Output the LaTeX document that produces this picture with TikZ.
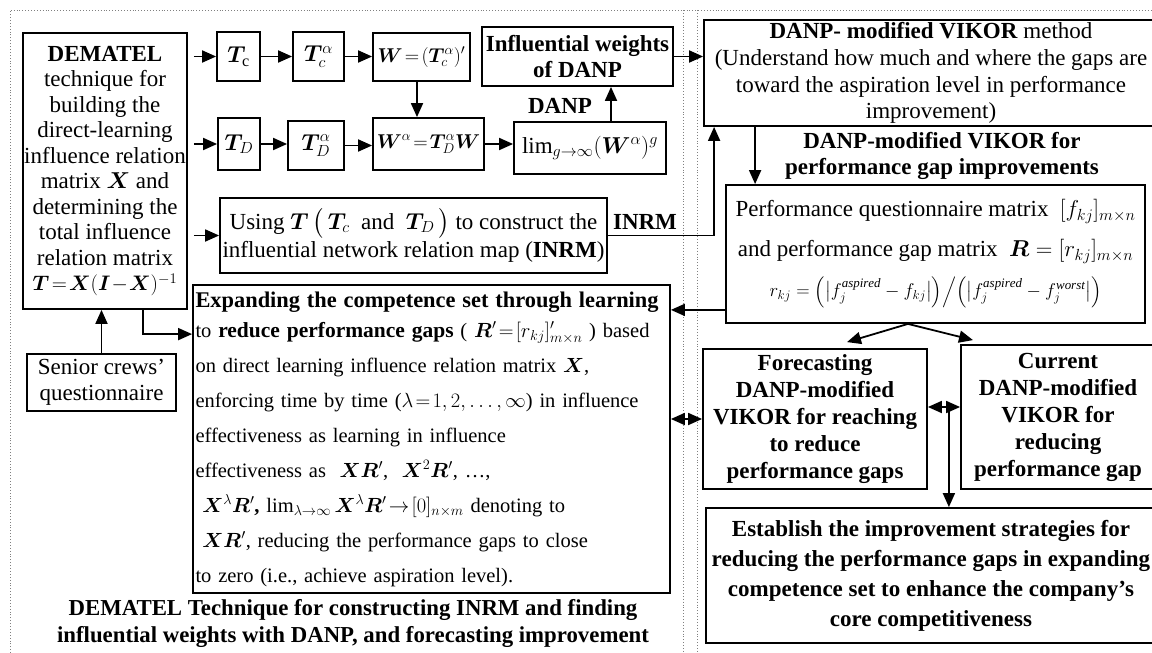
\RequirePackage{fix-cm}
\documentclass[tikz,border=0pt]{standalone}
\usepackage{amsmath}
\usepackage{bm}
\usepackage{fontspec}
\setmainfont{Liberation Serif}
\usetikzlibrary{arrows.meta,calc}
\begin{document}
\begin{tikzpicture}[x=1pt,y=-1pt,
  every node/.style={font=\fontsize{23}{25.5}\selectfont},
  box/.style={draw,line width=1.8pt,inner sep=0pt,align=center},
  arr/.style={line width=1.8pt,-{Triangle[length=14pt,width=12pt]}},
  dbl/.style={line width=1.8pt,{Triangle[length=14pt,width=12pt]}-{Triangle[length=14pt,width=12pt]}},
  framel/.style={gray,dotted,line width=0.9pt},
  lbl/.style={font=\fontsize{23}{26}\selectfont\bfseries,align=center,inner sep=0pt}]
\useasboundingbox (0,0) rectangle (1152,653);
% frame
\draw[framel] (10,653) -- (10,10) -- (1152,10);
\draw[framel] (683,10) -- (683,653);
\draw[framel] (697,10) -- (697,653);
% left part
\node[box,minimum width=164pt,minimum height=276pt] (L) at (105,171)
 {\textbf{DEMATEL}\\technique for\\building the\\direct-learning\\influence relation\\matrix $\bm{X}$ and\\determining the\\total influence\\relation matrix\\{\fontsize{21}{25}\selectfont$\bm{T}\!=\!\bm{X}(\bm{I}\!-\!\bm{X})^{-1}$}};
\node[box,minimum width=43pt,minimum height=49pt] (Tc) at (238.5,56.5) {$\bm{T}_{\mathrm{c}}$};
\node[box,minimum width=51pt,minimum height=49pt] (Tca) at (318.5,56.5) {$\bm{T}_c^{\alpha}$};
\node[box,minimum width=97pt,minimum height=48pt,font=\fontsize{20}{24}\selectfont] (W) at (421.5,57) {$\bm{W}\!=\!(\bm{T}_c^{\alpha})'$};
\node[box,minimum width=191pt,minimum height=59pt] (IW) at (577.5,56.5) {\textbf{Influential weights}\\\textbf{of DANP}};
\node[box,minimum width=42pt,minimum height=52pt] (TD) at (239,144) {$\bm{T}_D$};
\node[box,minimum width=56pt,minimum height=49pt] (TDa) at (316,145.5) {$\bm{T}_D^{\alpha}$};
\node[box,minimum width=111pt,minimum height=52pt,font=\fontsize{20}{24}\selectfont] (Wa) at (428.5,144) {$\bm{W}^{\alpha}\!=\!\bm{T}_D^{\alpha}\bm{W}$};
\node[box,minimum width=152pt,minimum height=52pt] (Lim) at (590,148) {$\lim_{g\to\infty}(\bm{W}^{\alpha})^{g}$};
\node[box,minimum width=387pt,minimum height=75pt] (U) at (413.5,235.5)
 {Using $\bm{T}$\,$\bigl($\,$\bm{T}_c$\ \ and\ \ $\bm{T}_D$\,$\bigr)$ to construct the\\[3pt]influential network relation map (\textbf{INRM})};
\node[box,minimum width=477pt,minimum height=308pt,text width=472pt,inner xsep=2.5pt,align=left,font=\fontsize{20.5}{35}\selectfont] (E) at (431.5,439)
 {{\fontsize{22.4}{35}\selectfont\bfseries Expanding the competence set through learning}\\[-5pt]
 to {\fontsize{21.5}{35}\selectfont\bfseries reduce performance gaps} ( $\bm{R}'\!=\![r_{kj}]'_{m\times n}$ ) based\\
 on direct learning influence relation matrix $\bm{X}$,\\
 enforcing time by time ($\lambda\!=\!1,2,\ldots,\infty$) in influence\\
 effectiveness as learning in influence\\
 effectiveness as\ \ $\bm{XR}'$,\ \ $\bm{X}^2\bm{R}'$, \ldots,\\
 \ $\bm{X}^{\lambda}\bm{R}'$\textbf{,} $\lim_{\lambda\to\infty}\bm{X}^{\lambda}\bm{R}'\!\to\![0]_{n\times m}$ denoting to\\
 \ $\bm{XR}'$, reducing the performance gaps to close\\
 to zero (i.e., achieve aspiration level).};
\node[box,minimum width=149pt,minimum height=57pt] (S) at (101.5,382.5) {Senior crews’\\questionnaire};
\node[lbl,font=\fontsize{22.8}{27}\selectfont\bfseries] (cap) at (353,623)
 {DEMATEL Technique for constructing INRM and finding\\influential weights with DANP, and forecasting improvement};
\node[lbl] (danp) at (560,106) {DANP};
\node[lbl] (inrm) at (645,222) {INRM};
% right part
\node[box,minimum width=454pt,minimum height=106pt,font=\fontsize{23}{26.7}\selectfont] (V) at (931,73)
 {\textbf{DANP- modified VIKOR} method\\(Understand how much and where the gaps are\\toward the aspiration level in performance\\improvement)};
\node[lbl] (vlab) at (942,156) {DANP-modified VIKOR for\\performance gap improvements};
\node[box,minimum width=419pt,minimum height=138pt,font=\fontsize{23}{40}\selectfont] (P) at (935.5,254)
 {Performance questionnaire matrix\ \ $[f_{kj}]_{m\times n}$\\
  and performance gap matrix\ \ $\bm{R}=[r_{kj}]_{m\times n}$\\
  {\fontsize{18.5}{20}\selectfont $r_{kj}=\Bigl(\bigl|f_j^{\mathit{aspired}}-f_{kj}\bigr|\Bigr)\Big/\Bigl(\bigl|f_j^{\mathit{aspired}}-f_j^{\mathit{worst}}\bigr|\Bigr)$}};
\node[box,minimum width=224pt,minimum height=140pt,font=\fontsize{23}{27}\selectfont\bfseries] (F) at (815,419)
 {Forecasting\\DANP-modified\\VIKOR for reaching\\to reduce\\performance gaps};
\node[box,minimum width=194pt,minimum height=144pt,font=\fontsize{23}{27}\selectfont\bfseries] (C) at (1058,417)
 {Current\\DANP-modified\\VIKOR for\\reducing\\performance gap};
\node[box,minimum width=450pt,minimum height=135pt,font=\fontsize{23}{30}\selectfont\bfseries] (Es) at (931,575.5)
 {Establish the improvement strategies for\\reducing the performance gaps in expanding\\competence set to enhance the company’s\\core competitiveness};
% connectors
\draw[arr,shorten <=6pt] (L.east |- Tc.west) -- (Tc.west);
\draw[arr] (Tc.east) -- (Tc.east -| Tca.west);
\draw[arr] (Tca.east) -- (Tca.east -| W.west);
\coordinate (w1) at ([xshift=-4.5pt]W.south);
\draw[arr] (w1) -- (w1 |- Wa.north);
\draw[arr,shorten <=6pt] (L.east |- TD.west) -- (TD.west);
\draw[arr] (TD.east) -- (TD.east -| TDa.west);
\draw[arr] (TDa.east) -- (TDa.east -| Wa.west);
\draw[arr] (Wa.east) -- (Wa.east -| Lim.west);
\coordinate (m1) at ([xshift=21pt]Lim.north);
\draw[arr] (m1) -- (m1 |- IW.south);
\draw[arr,shorten <=6pt] (L.east |- U.west) -- (U.west);
\draw[arr] (IW.east) -- (IW.east -| V.west);
\coordinate (v0) at ([xshift=11pt]V.south west);
\draw[arr] (U.east) -| (v0);
\coordinate (v1) at ([xshift=52pt]V.south west);
\draw[arr] (v1) -- (v1 |- P.north);
\coordinate (p1) at ([yshift=14pt]P.south west);
\draw[arr] (p1) -- (p1 -| E.east);
\coordinate (l1) at ([xshift=121pt]L.south west);
\coordinate (e1) at ([yshift=-50pt]E.north west);
\draw[arr] (l1) |- (e1);
\draw[arr] (S.north) -- (S.north |- L.south);
\coordinate (p2) at ([xshift=-27.5pt]P.south);
\draw[arr] (p2) -- ([xshift=32pt,yshift=6pt]F.north);
\draw[arr] (p2) -- ([xshift=-85pt,yshift=4pt]C.north);
\draw[dbl] (F.west -| E.east) -- (F.west);
\coordinate (f1) at ([yshift=12pt]F.east);
\draw[dbl] (f1) -- (f1 -| C.west);
\coordinate (f2) at ([xshift=21pt,yshift=12pt]F.east);
\draw[arr] (f2) -- (f2 |- Es.north);
\end{tikzpicture}
\end{document}
